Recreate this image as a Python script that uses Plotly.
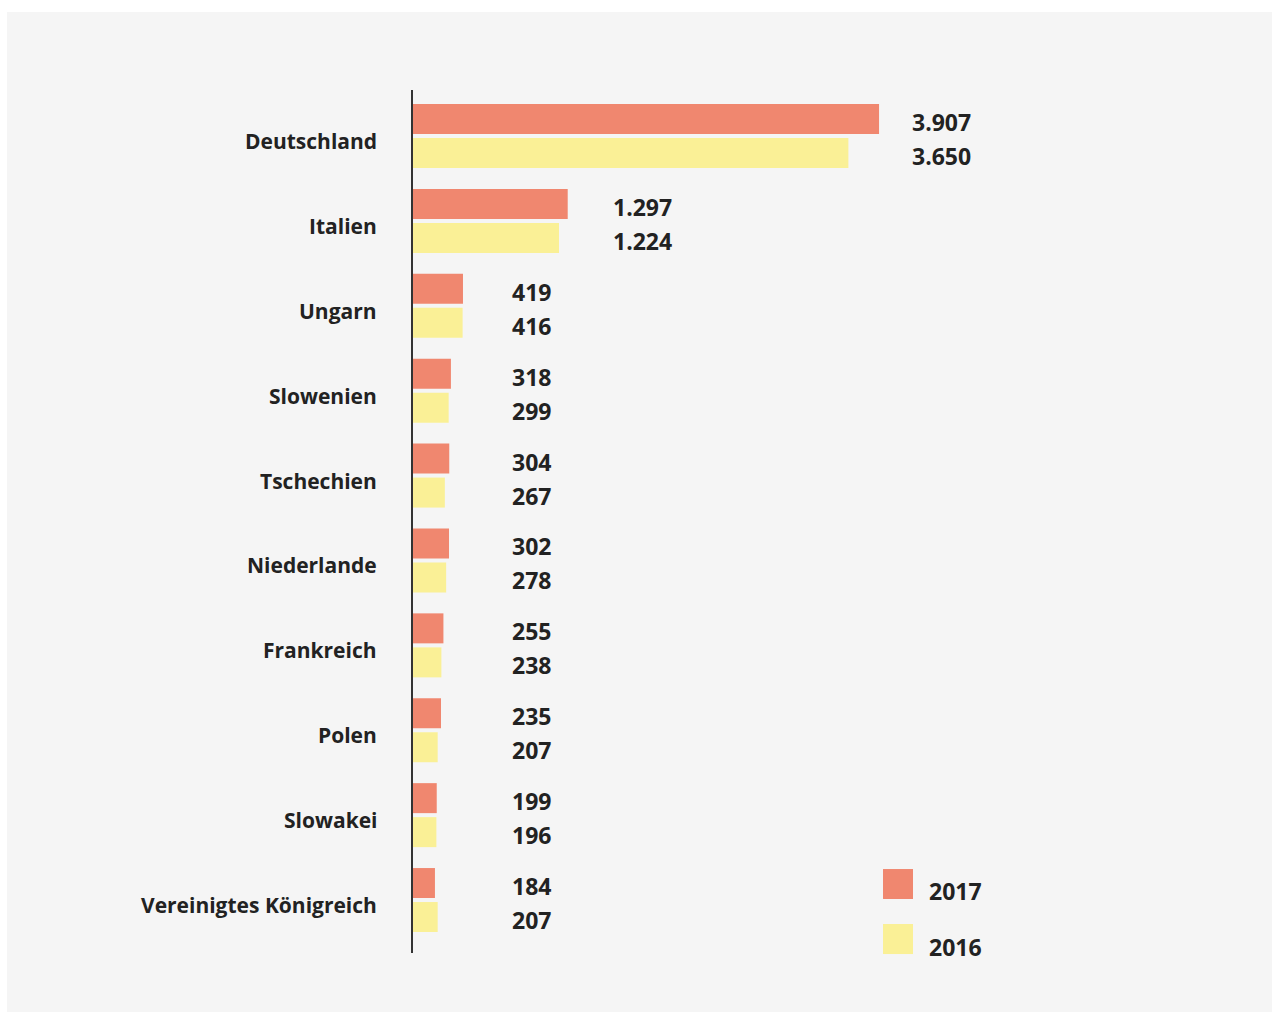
import plotly.graph_objects as go

countries = ["Deutschland", "Italien", "Ungarn", "Slowenien", "Tschechien",
             "Niederlande", "Frankreich", "Polen", "Slowakei", "Vereinigtes Königreich"]
v2017 = [3907, 1297, 419, 318, 304, 302, 255, 235, 199, 184]
v2016 = [3650, 1224, 416, 299, 267, 278, 238, 207, 196, 207]
labels2017 = ["3.907", "1.297", "419", "318", "304", "302", "255", "235", "199", "184"]
labels2016 = ["3.650", "1.224", "416", "299", "267", "278", "238", "207", "196", "207"]
series_names = ["2017", "2016"]

C17 = "#F0876F"
C16 = "#FAF096"
TXT = "#222222"
FONT = "'Open Sans', Lato, sans-serif"
FS_LAB = 21
FS_NUM = 23

fig = go.Figure()
fig.add_trace(go.Bar(y=countries, x=v2017, orientation="h", name=series_names[0],
                     marker=dict(color=C17, line=dict(width=0)), hoverinfo="x+y"))
fig.add_trace(go.Bar(y=countries, x=v2016, orientation="h", name=series_names[1],
                     marker=dict(color=C16, line=dict(width=0)), hoverinfo="x+y"))

annotations = []
for c, a, b, la, lb in zip(countries, v2017, v2016, labels2017, labels2016):
    m = max(a, b)
    lx = max(0.96 * m + 440, 838)
    annotations.append(dict(x=lx, y=c, xref="x", yref="y", text=f"<b>{la}</b>",
                            showarrow=False, xanchor="left", yanchor="middle",
                            xshift=-3, yshift=14,
                            font=dict(size=FS_NUM, color=TXT, family=FONT)))
    annotations.append(dict(x=lx, y=c, xref="x", yref="y", text=f"<b>{lb}</b>",
                            showarrow=False, xanchor="left", yanchor="middle",
                            xshift=-3, yshift=-20,
                            font=dict(size=FS_NUM, color=TXT, family=FONT)))
    # category label
    annotations.append(dict(x=0, y=c, xref="x", yref="y", text=f"<b>{c}</b>",
                            showarrow=False, xanchor="right", yanchor="middle",
                            xshift=-34, yshift=-5,
                            font=dict(size=FS_LAB, color=TXT, family=FONT)))

# custom legend
shapes = [
    dict(type="rect", xref="paper", yref="paper", x0=-0.4862, x1=1.0287, y0=-0.0684, y1=1.0904,
         fillcolor="#F5F5F5", line=dict(width=0), layer="below"),
    dict(type="rect", xref="paper", yref="paper", x0=0.5629, x1=0.5988, y0=0.0626, y1=0.0973,
         fillcolor=C17, line=dict(width=0)),
    dict(type="rect", xref="paper", yref="paper", x0=0.5629, x1=0.5988, y0=-0.0012, y1=0.0336,
         fillcolor=C16, line=dict(width=0)),
]
annotations.append(dict(x=0.6156, y=0.0718, xref="paper", yref="paper", text=f"<b>{series_names[0]}</b>",
                        showarrow=False, xanchor="left", yanchor="middle",
                        font=dict(size=FS_NUM, color=TXT, family=FONT)))
annotations.append(dict(x=0.6156, y=0.0070, xref="paper", yref="paper", text=f"<b>{series_names[1]}</b>",
                        showarrow=False, xanchor="left", yanchor="middle",
                        font=dict(size=FS_NUM, color=TXT, family=FONT)))

fig.update_layout(
    width=1272, height=1014,
    margin=dict(l=413, r=24, t=90, b=61),
    paper_bgcolor="#FFFFFF", plot_bgcolor="rgba(0,0,0,0)",
    barmode="group", bargap=0.199, bargroupgap=0.118,
    showlegend=False,
    xaxis=dict(visible=False, range=[0, 7000], fixedrange=True),
    yaxis=dict(categoryorder="array", categoryarray=countries, range=[9.624, -0.542],
               showline=True, linecolor="#333333", linewidth=2, showgrid=False,
               ticks="", showticklabels=False),
    shapes=shapes, annotations=annotations,
    font=dict(family=FONT, color=TXT),
)

fig.write_html("out.html")
